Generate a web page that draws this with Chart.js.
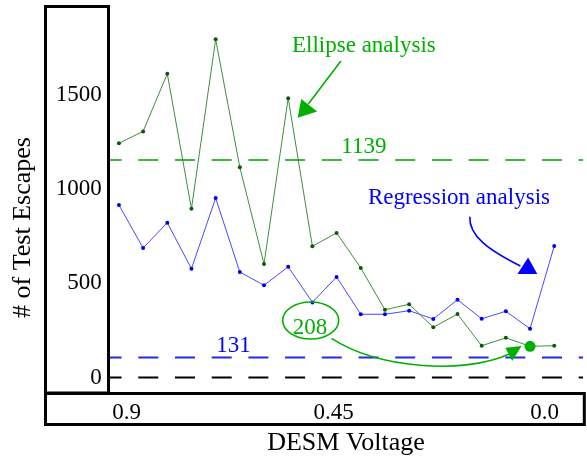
<!DOCTYPE html>
<html>
<head>
<meta charset="utf-8">
<script src="https://cdn.jsdelivr.net/npm/chart.js@4.4.0/dist/chart.umd.min.js"></script>
<style>
html,body{margin:0;padding:0;background:#fff;}
canvas{display:block;}
</style>
</head>
<body>
<canvas id="myCanvas" width="587" height="456"></canvas>
<script>
// sample positions along the sweep (left = 0.9 V, right = 0.0 V)
var samples=[0,1,2,3,4,5,6,7,8,9,10,11,12,13,14,15,16,17,18];
var ellipseEscapes=[1244,1307,1613,896,1796,1116,603,1483,697,768,582,360,389,267,337,169,211,166,169];
var regressionEscapes=[916,688,822,578,953,560,490,588,399,534,336,336,355,311,413,312,352,259,698];
var highlightIndex=17;

// reference levels
var ellipseLevel=1155;
var regressionLevel=107;
var zeroLevel=0;

var yTicks=[0,500,1000,1500];
var xTickPos=[0.32,8.88,17.6];
var xTickLabels=['0.9','0.45','0.0'];
var xRange=[-0.41,19.19];
var yRange=[-82,1970];

var FONT='"Liberation Serif", "Times New Roman", serif';
var GREEN='#00b000';
var BLUE='#0000ff';

function pts(vals){
  return vals.map(function(v,i){return {x:samples[i],y:v};});
}
function level(v){
  return [{x:xRange[0],y:v},{x:xRange[1],y:v}];
}

//annotations, all placed in data units
var notes={
  id:'notes',
  afterDatasetsDraw:function(chart){
    var ctx=chart.ctx, xs=chart.scales.x, ys=chart.scales.y;
    function px(p){return [xs.getPixelForValue(p[0]),ys.getPixelForValue(p[1])];}
    function text(str,at,color){
      var p=px(at);
      ctx.fillStyle=color;
      ctx.font='23px '+FONT;
      ctx.textAlign='center';
      ctx.textBaseline='alphabetic';
      ctx.fillText(str,p[0],p[1]);
    }
    function tri(a,b,c,color){
      a=px(a);b=px(b);c=px(c);
      ctx.fillStyle=color;
      ctx.beginPath();
      ctx.moveTo(a[0],a[1]);ctx.lineTo(b[0],b[1]);ctx.lineTo(c[0],c[1]);
      ctx.closePath();ctx.fill();
    }
    function curve(s,c1,c2,e,color){
      s=px(s);c1=px(c1);c2=px(c2);e=px(e);
      ctx.strokeStyle=color;
      ctx.lineWidth=1.6;
      ctx.beginPath();
      ctx.moveTo(s[0],s[1]);
      ctx.bezierCurveTo(c1[0],c1[1],c2[0],c2[1],e[0],e[1]);
      ctx.stroke();
    }
    ctx.save();
    text('Ellipse analysis',[10.13,1730],GREEN);
    curve([9.18,1681],[8.7,1600],[8.3,1530],[7.83,1452],GREEN);
    tri([7.39,1380],[7.54,1479],[8.2,1412],GREEN);

    text('1139',[10.13,1194],GREEN);
    text('131',[4.74,137],BLUE);

    text('Regression analysis',[14.06,924],BLUE);
    curve([14.51,854],[14.47,751],[15.29,677],[16.6,592],BLUE);
    tri([16.92,638],[16.48,550],[17.3,550],BLUE);

    // 208 bubble
    var c=px([7.93,303]);
    ctx.strokeStyle=GREEN;
    ctx.lineWidth=1.6;
    ctx.beginPath();
    ctx.ellipse(c[0],c[1],28,18.5,0,0,Math.PI*2);
    ctx.stroke();
    text('208',[7.9,231],GREEN);
    curve([8.79,208],[10.7,50],[14.19,13],[16.15,125],GREEN);
    tri([16.65,168],[15.98,158],[16.26,88],GREEN);

    // y axis title
    ctx.fillStyle='#000';
    ctx.font='26px '+FONT;
    ctx.textAlign='center';
    ctx.textBaseline='middle';
    ctx.translate(23,227.5);
    ctx.rotate(-Math.PI/2);
    ctx.fillText('# of Test Escapes',0,0);
    ctx.restore();
  },
  afterDraw:function(chart){
    var ctx=chart.ctx, a=chart.chartArea;
    ctx.save();
    ctx.strokeStyle='#000';
    ctx.lineWidth=3;
    ctx.strokeRect(45.5,a.top,a.left-0.5-45.5,a.bottom-a.top);
    ctx.strokeRect(45.5,a.bottom+0.5,584.3-45.5,424.5-a.bottom-0.5);
    ctx.restore();
  }
};

var ctx=document.getElementById('myCanvas');
var myChart=new Chart(ctx,{
  type:'line',
  data:{
    datasets:[
      {
        label:'Ellipse analysis',
        data:pts(ellipseEscapes),
        borderColor:'#3d8f3d',
        borderWidth:1,
        pointRadius:ellipseEscapes.map(function(v,i){return i===highlightIndex?5.5:2;}),
        pointBackgroundColor:ellipseEscapes.map(function(v,i){return i===highlightIndex?GREEN:'#0a5a0a';}),
        pointBorderWidth:0,
        tension:0,
        order:1
      },
      {
        label:'Regression analysis',
        data:pts(regressionEscapes),
        borderColor:'#4848ff',
        borderWidth:1,
        pointRadius:2,
        pointBackgroundColor:'#0000ee',
        pointBorderWidth:0,
        tension:0,
        order:1
      },
      {
        label:'ellipse level',
        data:level(ellipseLevel),
        borderColor:'#3cb83c',
        borderWidth:2,
        borderDash:[20,16.7],
        borderDashOffset:7.4,
        pointRadius:0,
        order:2
      },
      {
        label:'regression level',
        data:level(regressionLevel),
        borderColor:'#2828e6',
        borderWidth:2,
        borderDash:[20,16.7],
        borderDashOffset:7.4,
        pointRadius:0,
        order:2
      },
      {
        label:'zero',
        data:level(zeroLevel),
        borderColor:'#000',
        borderWidth:2,
        borderDash:[20,16.7],
        borderDashOffset:7.4,
        pointRadius:0,
        order:2
      }
    ]
  },
  options:{
    responsive:false,
    animation:false,
    devicePixelRatio:1,
    layout:{padding:{left:0,right:0,top:6.5,bottom:0}},
    plugins:{legend:{display:false},tooltip:{enabled:false}},
    scales:{
      x:{
        type:'linear',
        min:xRange[0],
        max:xRange[1],
        grid:{display:false,drawTicks:false},
        border:{display:false},
        afterBuildTicks:function(s){s.ticks=xTickPos.map(function(v){return {value:v};});},
        afterFit:function(s){s.height=63;s.paddingLeft=0;s.paddingRight=0;},
        ticks:{
          padding:5.7,
          color:'#000',
          font:{family:FONT,size:23,lineHeight:1.2},
          maxRotation:0,
          autoSkip:false,
          callback:function(v,i){return xTickLabels[i];}
        },
        title:{
          display:true,
          text:'DESM Voltage',
          color:'#000',
          font:{family:FONT,size:26,lineHeight:1},
          padding:{top:0,bottom:0}
        }
      },
      y:{
        min:yRange[0],
        max:yRange[1],
        grid:{display:false,drawTicks:false},
        border:{display:false},
        afterBuildTicks:function(s){s.ticks=yTicks.map(function(v){return {value:v};});},
        afterFit:function(s){s.width=109;s.paddingTop=0;s.paddingBottom=0;},
        ticks:{
          padding:7.3,
          color:'#000',
          font:{family:FONT,size:23,lineHeight:1.2},
          callback:function(v){return String(v);}
        }
      }
    }
  },
  plugins:[notes]
});
</script>
</body>
</html>
